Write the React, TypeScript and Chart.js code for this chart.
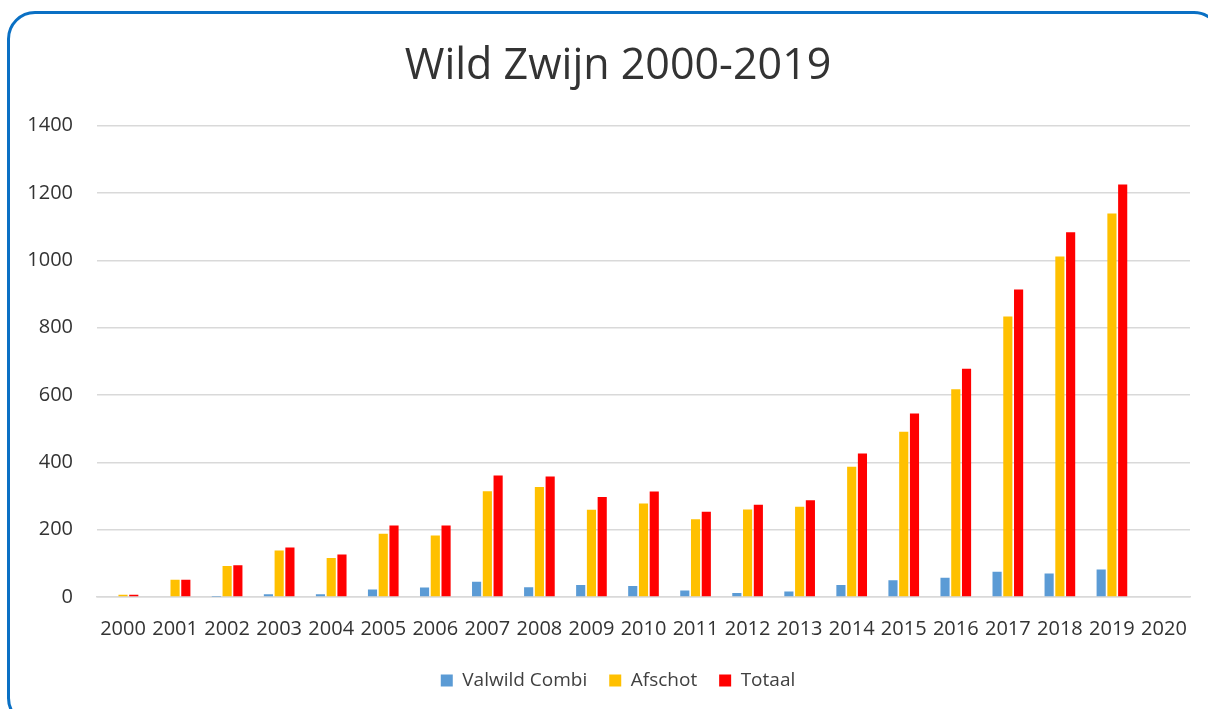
import React, { useEffect, useRef } from "react";
import { Chart, registerables } from "chart.js";

Chart.register(...registerables);

const years = ["2000","2001","2002","2003","2004","2005","2006","2007","2008","2009","2010","2011","2012","2013","2014","2015","2016","2017","2018","2019","2020"];
const valwild = [0, 0, 1, 8, 8, 22, 28, 45, 29, 36, 33, 19, 12, 16, 36, 50, 57, 75, 70, 82, null];
const afschot = [7, 51, 92, 138, 116, 188, 183, 314, 327, 259, 278, 231, 260, 268, 387, 491, 617, 833, 1011, 1139, null];
const totaal = [7, 51, 94, 147, 126, 212, 212, 361, 358, 297, 313, 253, 274, 287, 426, 545, 678, 913, 1083, 1225, null];
const yTicks = [0, 200, 400, 600, 800, 1000, 1200, 1400];

const FONT = "'Open Sans', 'Noto Sans', sans-serif";

export default function App() {
  const ref = useRef<HTMLCanvasElement | null>(null);
  useEffect(() => {
    if (!ref.current) return;
    const chart = new Chart(ref.current, {
      type: "bar",
      data: {
        labels: years,
        datasets: [
          { label: "Valwild Combi", data: valwild, backgroundColor: "#5B9BD5" },
          { label: "Afschot", data: afschot, backgroundColor: "#FFC000" },
          { label: "Totaal", data: totaal, backgroundColor: "#FF0000" },
        ],
      },
      options: {
        animation: false,
        responsive: false,
        maintainAspectRatio: false,
        datasets: { bar: { categoryPercentage: 0.62, barPercentage: 0.85 } },
        layout: { padding: { left: 46, right: 18, top: 0, bottom: 9 } },
        plugins: {
          title: {
            display: true,
            text: "Wild Zwijn 2000-2019",
            color: "#333333",
            font: { family: FONT, size: 43, weight: "normal" },
            padding: { top: 41, bottom: 33 },
          },
          legend: {
            position: "bottom",
            labels: {
              boxWidth: 12,
              boxHeight: 12,
              padding: 22,
              color: "#404040",
              font: { family: FONT, size: 19 },
            },
          },
          tooltip: { enabled: false },
        },
        scales: {
          x: {
            grid: { display: false },
            border: { display: true, color: "#d9d9d9", width: 1.5 },
            afterFit: (axis: any) => {
              axis.height -= 4;
            },
            ticks: { color: "#333333", font: { family: FONT, size: 20 }, padding: 12, maxRotation: 0, autoSkip: false },
          },
          y: {
            min: 0,
            max: 1400,
            afterBuildTicks: (axis: any) => {
              axis.ticks = yTicks.map((v) => ({ value: v }));
            },
            afterFit: (axis: any) => {
              axis.width = 51;
              axis._computeLabelArea = () => undefined;
            },
            grid: { color: "#d9d9d9", lineWidth: 1.5, drawTicks: false },
            border: { display: false },
            ticks: {
              color: "#333333",
              font: { family: FONT, size: 20 },
              padding: 24,
              callback: (v: any) => String(v),
            },
          },
        },
      },
    });
    return () => chart.destroy();
  }, []);
  return (
    <div style={{ position: "fixed", left: 0, top: 0, width: 1208, height: 709, overflow: "hidden", background: "#fff" }}>
      <div
        style={{
          position: "absolute",
          left: 7,
          top: 11,
          width: 1215,
          height: 715,
          border: "3px solid #0A70C4",
          borderRadius: 28,
          boxSizing: "border-box",
        }}
      />
      <canvas ref={ref} width={1208} height={709} style={{ position: "absolute", left: 0, top: 0 }} />
    </div>
  );
}
